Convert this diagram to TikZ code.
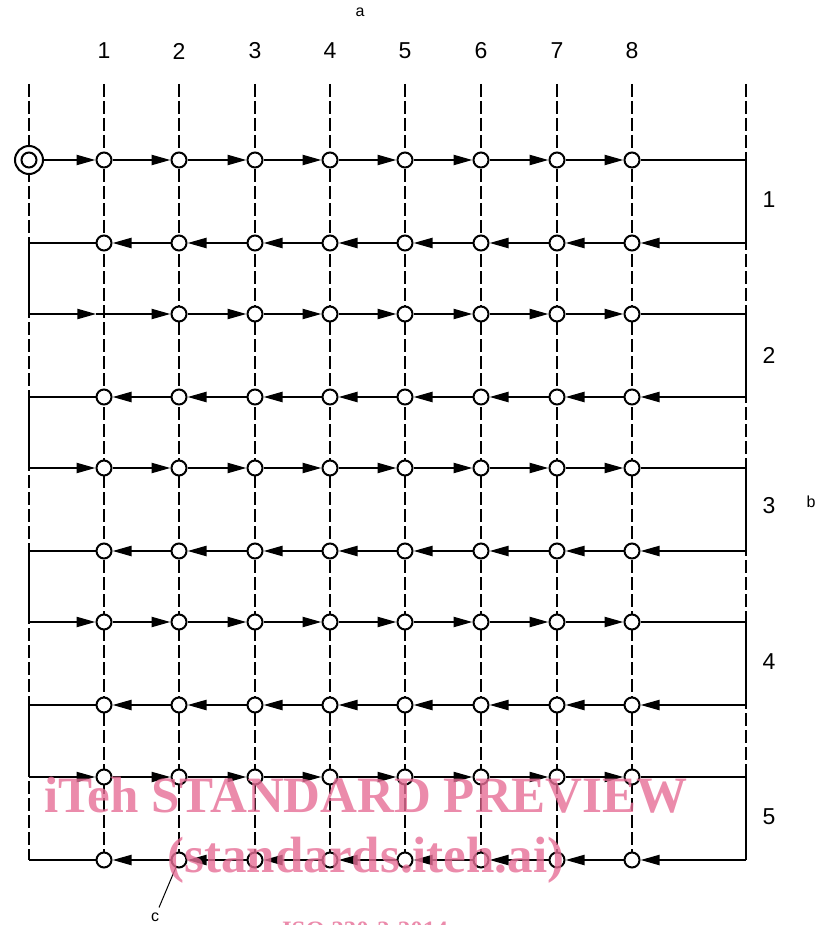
\documentclass[tikz,border=0pt]{standalone}
\usepackage{fontspec}
\setmainfont{Liberation Sans}
\newfontfamily\wmfont{Liberation Serif}
\usetikzlibrary{arrows.meta}
\definecolor{wmpink}{RGB}{230,110,150}
\begin{document}
\begin{tikzpicture}[x=1pt,y=-1pt,
  mpt/.style={circle,draw,fill=white,line width=2pt,minimum size=15pt,inner sep=0pt},
  ghost/.style={circle,minimum size=15pt,inner sep=0pt},
  axisline/.style={line width=1.3pt,dash pattern=on 13pt off 4pt},
  runline/.style={line width=2.2pt},
  flow/.style={runline,-{Triangle[length=19pt,width=10pt]}},
  leader/.style={line width=1pt},
  numlbl/.style={font=\fontsize{23}{26}\selectfont},
  keylbl/.style={font=\fontsize{16}{18}\selectfont},
  wm/.style={anchor=base,text=wmpink,text opacity=0.8,font=\wmfont\bfseries\fontsize{51}{56}\selectfont}
]
\useasboundingbox (0,0) rectangle (816,925);

% column axes and labels
\foreach \x [count=\c] in {104,179,255,330,405,481,557,632} {
  \coordinate (top-\c) at (\x,84);
  \coordinate (bot-\c) at (\x,868);
  \draw[axisline] (top-\c) -- (bot-\c);
  \node[numlbl] (cl-\c) at (\x,51) {\c};
}

% row end points
\foreach \y [count=\r] in {160,243,314,397,468,551,622,705,777,860} {
  \coordinate (L-\r) at (29,\y);
  \coordinate (R-\r) at (746,\y);
}
\coordinate (ltop) at (29,84);
\coordinate (rtop) at (746,84);
\draw[axisline] (ltop) -- (L-10);
\draw[axisline] (rtop) -- (R-10);

% measuring points
\foreach \y [count=\r] in {160,243,314,397,468,551,622,705,777,860} {
  \foreach \x [count=\c] in {104,179,255,330,405,481,557,632} {
    \ifnum\r\c=31
      \node[ghost] (n-\r-\c) at (\x,\y) {};
    \else
      \node[mpt] (n-\r-\c) at (\x,\y) {};
    \fi
  }
}

% start point
\node[mpt,minimum size=28pt] (start) at (29,160) {};
\node[mpt] (start-in) at (start.center) {};

% forward runs (left to right)
\draw[flow] (start) -- (n-1-1);
\foreach \r in {3,5,7,9} {
  \draw[flow] (L-\r) -- (n-\r-1);
}
\foreach \r in {1,3,5,7,9} {
  \foreach \c in {1,...,7} {
    \pgfmathtruncatemacro\d{\c+1}
    \draw[flow] (n-\r-\c) -- (n-\r-\d);
  }
  \draw[runline] (n-\r-8) -- (R-\r);
}
\draw[runline] (n-3-1.west) -- (n-3-1.east);

% reverse runs (right to left)
\foreach \r in {2,4,6,8,10} {
  \draw[flow] (R-\r) -- (n-\r-8);
  \foreach \c in {8,...,2} {
    \pgfmathtruncatemacro\d{\c-1}
    \draw[flow] (n-\r-\c) -- (n-\r-\d);
  }
  \draw[runline] (n-\r-1) -- (L-\r);
}

% turn-arounds
\foreach \a/\b in {1/2,3/4,5/6,7/8,9/10} {
  \draw[runline] (R-\a) -- (R-\b);
}
\foreach \a/\b in {2/3,4/5,6/7,8/9} {
  \draw[runline] (L-\a) -- (L-\b);
}

% cycle labels
\node[numlbl] (cy-1) at (769,200) {1};
\node[numlbl] (cy-2) at (769,355) {2};
\node[numlbl] (cy-3) at (769,506) {3};
\node[numlbl] (cy-4) at (769,662) {4};
\node[numlbl] (cy-5) at (769,817) {5};

% key letters
\node[keylbl] (ka) at (360,12) {a};
\node[keylbl] (kb) at (811,502) {b};
\node[keylbl,inner sep=5pt] (kc) at (155,917) {c};
\draw[leader] (kc) -- (n-10-2);

% watermark
\node[wm] (wm1) at (366,812) {iTeh STANDARD PREVIEW};
\node[wm] (wm2) at (366,872) {(standards.iteh.ai)};
\node[wm,font=\wmfont\bfseries\fontsize{25}{28}\selectfont] (wm3) at (365,938) {ISO 230-2:2014};
\end{tikzpicture}
\end{document}
